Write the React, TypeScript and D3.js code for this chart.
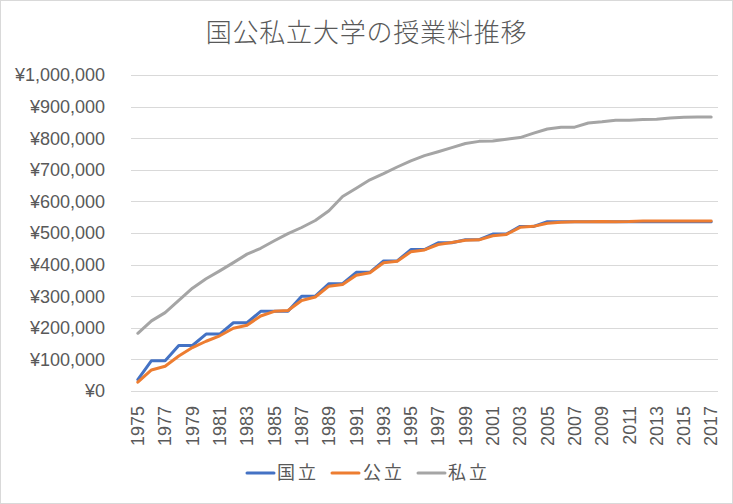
import React from "react";
import * as d3 from "d3";

const years: number[] = [
  1975, 1976, 1977, 1978, 1979, 1980, 1981, 1982, 1983, 1984, 1985, 1986, 1987, 1988, 1989,
  1990, 1991, 1992, 1993, 1994, 1995, 1996, 1997, 1998, 1999, 2000, 2001, 2002, 2003, 2004,
  2005, 2006, 2007, 2008, 2009, 2010, 2011, 2012, 2013, 2014, 2015, 2016, 2017,
];

const national: number[] = [
  36000, 96000, 96000, 144000, 144000, 180000, 180000, 216000, 216000, 252000, 252000, 252000,
  300000, 300000, 339600, 339600, 375600, 375600, 411600, 411600, 447600, 447600, 469200, 469200,
  478800, 478800, 496800, 496800, 520800, 520800, 535800, 535800, 535800, 535800, 535800, 535800,
  535800, 535800, 535800, 535800, 535800, 535800, 535800,
];

const publicU: number[] = [
  27847, 66582, 78141, 110691, 137616, 157412, 174706, 198529, 208136, 237268, 252000, 254741,
  286648, 297344, 331686, 337105, 366032, 374160, 405840, 410710, 440471, 446348, 463638, 469676,
  477015, 478278, 491170, 495478, 517920, 520997, 530586, 534065, 535291, 535238, 536439, 535962,
  536062, 537960, 537857, 537809, 537933, 537857, 538294,
];

const privateU: number[] = [
  182677, 221844, 248066, 286568, 325198, 355156, 380253, 406261, 433200, 451722, 475325, 497826,
  517395, 539591, 570584, 615486, 641608, 668460, 688046, 708847, 728365, 744733, 757158, 770024,
  783298, 790000, 791000, 797000, 802000, 816000, 829000, 835000, 835000, 848000, 852000, 857000,
  857000, 859000, 860000, 864000, 866000, 867000, 867000,
];

const yTicks: number[] = [0, 100000, 200000, 300000, 400000, 500000, 600000, 700000, 800000, 900000, 1000000];

const seriesNames: string[] = ["国立", "公立", "私立"];
const seriesColors: string[] = ["#4472C4", "#ED7D31", "#A5A5A5"];

const W = 733;
const H = 504;
const plot = { left: 131, right: 718, top: 75, bottom: 391 };

export default function App() {
  const x = d3
    .scaleBand<number>()
    .domain(years)
    .range([plot.left, plot.right]);
  const xc = (yr: number) => (x(yr) as number) + x.bandwidth() / 2;
  const y = d3.scaleLinear().domain([0, 1000000]).range([plot.bottom, plot.top]);

  const fmt = (v: number) => "¥" + d3.format(",")(v);
  const line = d3
    .line<number>()
    .x((_, i) => xc(years[i]))
    .y((d) => y(d));

  const series = [national, publicU, privateU];
  const font = "'Liberation Sans', Arial, sans-serif";
  const cjk = "'Noto Sans CJK JP', 'Noto Sans', sans-serif";
  const textColor = "#595959";

  const legendItems = [
    { lx: 247, tx: 277 },
    { lx: 332, tx: 363 },
    { lx: 418, tx: 448 },
  ];

  return (
    <svg
      width={W}
      height={H}
      style={{ position: "absolute", left: 0, top: 0, background: "#fff" }}
    >
      <rect x={0.5} y={0.5} width={W - 1} height={H - 1} fill="#fff" stroke="#D9D9D9" />
      <text
        x={W / 2}
        y={42}
        textAnchor="middle"
        fontFamily={cjk}
        fontSize={26}
        fontWeight={300}
        letterSpacing={0.8}
        fill={textColor}
      >
        国公私立大学の授業料推移
      </text>

      {yTicks.map((t) => (
        <g key={t}>
          <line
            x1={plot.left}
            x2={plot.right}
            y1={Math.round(y(t)) + 0.5}
            y2={Math.round(y(t)) + 0.5}
            stroke="#D9D9D9"
            strokeWidth={1}
          />
          <text
            x={105}
            y={y(t)}
            dy="0.35em"
            textAnchor="end"
            fontFamily={font}
            fontSize={18}
            fill={textColor}
          >
            {fmt(t)}
          </text>
        </g>
      ))}

      {years
        .filter((_, i) => i % 2 === 0)
        .map((yr) => (
          <text
            key={yr}
            transform={`translate(${xc(yr)},${406}) rotate(-90)`}
            textAnchor="end"
            dy="0.35em"
            fontFamily={font}
            fontSize={18}
            fill={textColor}
          >
            {yr}
          </text>
        ))}

      {series.map((s, i) => (
        <path
          key={i}
          d={line(s) || ""}
          fill="none"
          stroke={seriesColors[i]}
          strokeWidth={3}
          strokeLinejoin="round"
          strokeLinecap="round"
        />
      ))}

      {seriesNames.map((n, i) => (
        <g key={n}>
          <line
            x1={legendItems[i].lx}
            x2={legendItems[i].lx + 27}
            y1={473}
            y2={473}
            stroke={seriesColors[i]}
            strokeWidth={3}
            strokeLinecap="round"
          />
          <text
            x={legendItems[i].tx}
            y={473}
            dy="0.35em"
            fontFamily={cjk}
            fontSize={18}
            letterSpacing={3}
            fill={textColor}
          >
            {n}
          </text>
        </g>
      ))}
    </svg>
  );
}
